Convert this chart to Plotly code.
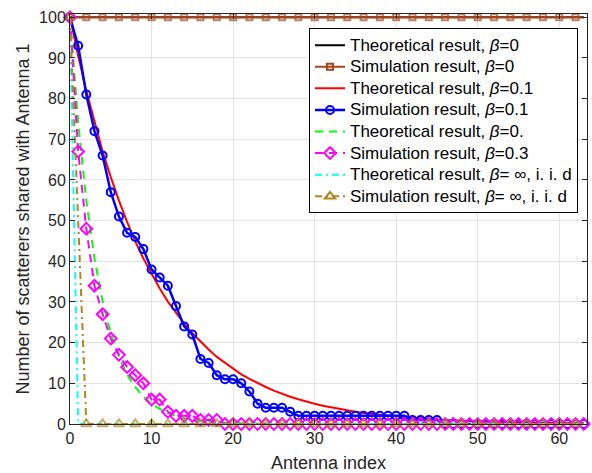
import plotly.graph_objects as go

antenna_index = list(range(64))

theo_b0 = [100, 100, 100, 100, 100, 100, 100, 100, 100, 100, 100, 100, 100, 100, 100, 100,
           100, 100, 100, 100, 100, 100, 100, 100, 100, 100, 100, 100, 100, 100, 100, 100,
           100, 100, 100, 100, 100, 100, 100, 100, 100, 100, 100, 100, 100, 100, 100, 100,
           100, 100, 100, 100, 100, 100, 100, 100, 100, 100, 100, 100, 100, 100, 100, 100]
sim_b0 = [100, 100, 100, 100, 100, 100, 100, 100, 100, 100, 100, 100, 100, 100, 100, 100,
          100, 100, 100, 100, 100, 100, 100, 100, 100, 100, 100, 100, 100, 100, 100, 100,
          100, 100, 100, 100, 100, 100, 100, 100, 100, 100, 100, 100, 100, 100, 100, 100,
          100, 100, 100, 100, 100, 100, 100, 100, 100, 100, 100, 100, 100, 100, 100, 100]
theo_b01 = [100, 90.5, 81.9, 74.1, 67.0, 60.7, 54.9, 49.7, 44.9, 40.7, 36.8, 33.3, 30.1, 27.3,
            24.7, 22.3, 20.2, 18.3, 16.5, 15.0, 13.5, 12.2, 11.1, 10.0, 9.1, 8.2, 7.4, 6.7,
            6.1, 5.5, 5.0, 4.5, 4.1, 3.7, 3.3, 3.0, 2.7, 2.5, 2.2, 2.0, 1.8, 1.7, 1.5, 1.4,
            1.2, 1.1, 1.0, 0.9, 0.8, 0.7, 0.7, 0.6, 0.6, 0.5, 0.5, 0.4, 0.4, 0.3, 0.3, 0.3,
            0.2, 0.2, 0.2, 0.2]
sim_b01 = [100, 93, 81, 72, 66, 57, 51, 47, 46, 43, 38, 36, 34, 29, 24, 22, 16, 15, 12, 11,
           11, 10, 8, 5, 4, 4, 4, 3, 2, 2, 2, 2, 2, 2, 2, 2, 2, 2, 2, 2, 2, 2, 1, 1, 1, 1,
           0, 0, 0, 0, 0, 0, 0, 0, 0, 0, 0, 0, 0, 0, 0, 0, 0, 0]
theo_b03 = [100, 74.1, 54.9, 40.7, 30.1, 22.3, 16.5, 12.2, 9.1, 6.7, 5.0, 3.7, 2.7, 2.0, 1.5,
            1.1, 0.8, 0.6, 0.5, 0.3, 0.2, 0.2, 0.1, 0.1, 0.1, 0.1, 0, 0, 0, 0, 0, 0, 0, 0,
            0, 0, 0, 0, 0, 0, 0, 0, 0, 0, 0, 0, 0, 0, 0, 0, 0, 0, 0, 0, 0, 0, 0, 0, 0, 0,
            0, 0, 0, 0]
sim_b03 = [100, 67, 48, 34, 27, 21, 17, 14, 12, 10, 6, 6, 3, 2, 2, 2, 1, 1, 1, 0,
           0, 0, 0, 0, 0, 0, 0, 0, 0, 0, 0, 0, 0, 0, 0, 0, 0, 0, 0, 0, 0, 0, 0, 0, 0, 0,
           0, 0, 0, 0, 0, 0, 0, 0, 0, 0, 0, 0, 0, 0, 0, 0, 0, 0]
theo_inf = [100, 0, 0, 0, 0, 0, 0, 0, 0, 0, 0, 0, 0, 0, 0, 0, 0, 0, 0, 0, 0, 0, 0, 0, 0, 0,
            0, 0, 0, 0, 0, 0, 0, 0, 0, 0, 0, 0, 0, 0, 0, 0, 0, 0, 0, 0, 0, 0, 0, 0, 0, 0,
            0, 0, 0, 0, 0, 0, 0, 0, 0, 0, 0, 0]
sim_inf = [100, 52, 0, 0, 0, 0, 0, 0, 0, 0, 0, 0, 0, 0, 0, 0, 0, 0, 0, 0, 0, 0, 0, 0, 0, 0,
           0, 0, 0, 0, 0, 0, 0, 0, 0, 0, 0, 0, 0, 0, 0, 0, 0, 0, 0, 0, 0, 0, 0, 0, 0, 0,
           0, 0, 0, 0, 0, 0, 0, 0, 0, 0, 0, 0]

labels = [
    "Theoretical result, <i>β</i>=0",
    "Simulation result, <i>β</i>=0",
    "Theoretical result, <i>β</i>=0.1",
    "Simulation result, <i>β</i>=0.1",
    "Theoretical result, <i>β</i>=0.",
    "Simulation result, <i>β</i>=0.3",
    "Theoretical result, <i>β</i>= ∞, i. i. d",
    "Simulation result, <i>β</i>= ∞, i. i. d",
]
labels = ['<span style="font-size:17px">' + s + '</span>' for s in labels]

BROWN = "#A8461A"
GOLD = "#B5841C"
DASH = "8px,6px"
DASHDOT = "7px,4px,2px,4px"


def every2(s):
    return [s if i % 2 == 0 else 0 for i in range(len(antenna_index))]


fig = go.Figure()
fig.add_trace(go.Scatter(x=antenna_index, y=theo_b0, mode="lines", name=labels[0],
                         line=dict(color="black", width=2)))
sq_marker = dict(symbol="square-open", color=BROWN, line=dict(width=2, color=BROWN))
fig.add_trace(go.Scatter(x=antenna_index, y=sim_b0, mode="lines+markers", showlegend=False,
                         line=dict(color=BROWN, width=2),
                         marker=dict(size=every2(6), **sq_marker)))
fig.add_trace(go.Scatter(x=[None], y=[None], mode="lines+markers", name=labels[1],
                         line=dict(color=BROWN, width=2), marker=dict(size=6, **sq_marker)))
fig.add_trace(go.Scatter(x=antenna_index, y=theo_b01, mode="lines", name=labels[2],
                         line=dict(color="#FF0000", width=2)))
fig.add_trace(go.Scatter(x=antenna_index, y=sim_b01, mode="lines+markers", name=labels[3],
                         line=dict(color="#0000FF", width=2.5),
                         marker=dict(symbol="circle-open", size=8, color="#0000FF",
                                     line=dict(width=2, color="#0000FF"))))
fig.add_trace(go.Scatter(x=antenna_index, y=theo_b03, mode="lines", name=labels[4],
                         line=dict(color="#00FF00", width=2, dash=DASH)))
fig.add_trace(go.Scatter(x=antenna_index, y=sim_b03, mode="lines+markers", name=labels[5],
                         line=dict(color="#FF00FF", width=2, dash=DASH),
                         marker=dict(symbol="diamond-open", size=9, color="#FF00FF",
                                     line=dict(width=2, color="#FF00FF"))))
fig.add_trace(go.Scatter(x=antenna_index, y=theo_inf, mode="lines", name=labels[6],
                         line=dict(color="#00FFFF", width=2, dash=DASHDOT)))
tri_marker = dict(symbol="triangle-up-open", color=GOLD, line=dict(width=2, color=GOLD))
fig.add_trace(go.Scatter(x=antenna_index, y=sim_inf, mode="lines+markers", showlegend=False,
                         line=dict(color=GOLD, width=2, dash=DASHDOT),
                         marker=dict(size=every2(9), **tri_marker)))
fig.add_trace(go.Scatter(x=[None], y=[None], mode="lines+markers", name=labels[7],
                         line=dict(color=GOLD, width=2, dash=DASHDOT),
                         marker=dict(size=9, **tri_marker)))

for tr in fig.data:
    tr.cliponaxis = False

axis_common = dict(
    showline=True, mirror="allticks", linecolor="#262626", linewidth=1,
    ticks="inside", ticklen=5, tickcolor="#262626",
    showgrid=True, gridcolor="#E3E3E3", gridwidth=1, zeroline=False, automargin=False,
    tickfont=dict(family="Liberation Sans, Arial", size=16, color="#262626"),
)

fig.update_layout(
    width=592, height=473,
    margin=dict(l=70, r=5, t=14, b=49, autoexpand=False),
    paper_bgcolor="white", plot_bgcolor="white",
    font=dict(family="Liberation Sans, Arial", size=16, color="#262626"),
    xaxis=dict(range=[0, 63.4], tickmode="array", tickvals=[0, 10, 20, 30, 40, 50, 60],
               title=dict(text="Antenna index", font=dict(size=18, color="#262626"), standoff=11),
               **axis_common),
    yaxis=dict(range=[0, 100.8], tickmode="array",
               tickvals=[0, 10, 20, 30, 40, 50, 60, 70, 80, 90, 100],
               title=dict(text="Number of scatterers shared with Antenna 1",
                          font=dict(size=18, color="#262626"), standoff=4),
               **axis_common),
    legend=dict(x=0.9826, y=0.965, xanchor="right", yanchor="top",
                bgcolor="white", bordercolor="black", borderwidth=1,
                font=dict(family="Liberation Sans, Arial", size=14.3, color="black"),
                tracegroupgap=0, itemwidth=30),
    showlegend=True,
)

fig.write_html("out.html", config={"displayModeBar": False},
               post_script="document.body.style.margin='0';document.body.style.overflow='hidden';")
